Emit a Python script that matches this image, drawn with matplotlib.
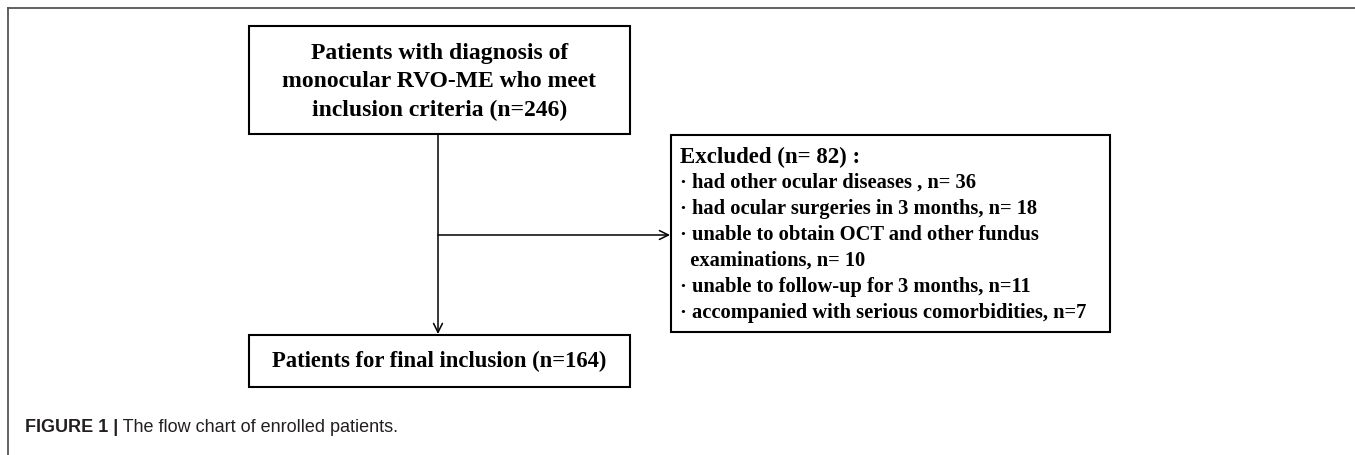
"""
Flow chart of enrolled patients (RVO-ME study).
"""
import matplotlib
matplotlib.use("Agg")
import matplotlib.pyplot as plt
from matplotlib.patches import Rectangle

# counts
n_total = 246
n_excluded = 82
n_final = 164

# exclusion reasons and counts
reasons = [
    'had other ocular diseases , n= {}',
    'had ocular surgeries in 3 months, n= {}',
    'unable to obtain OCT and other fundus\n  examinations, n= {}',
    'unable to follow-up for 3 months, n={}',
    'accompanied with serious comorbidities, n={}',
]
reason_counts = [36, 18, 10, 11, 7]

top_label = 'Patients with diagnosis of\nmonocular RVO-ME who meet\ninclusion criteria (n={})'
final_label = 'Patients for final inclusion (n={})'
excluded_label = 'Excluded (n= {}) :'
caption_bold = 'FIGURE 1 |'
caption_text = ' The flow chart of enrolled patients.'

W, H = 1355, 455
fig = plt.figure(figsize=(W / 100, H / 100), dpi=100)
ax = fig.add_axes([0, 0, 1, 1])
ax.set_xlim(0, W)
ax.set_ylim(H, 0)
ax.axis('off')

serif = 'Liberation Serif'
box_kw = dict(fill=False, edgecolor='black', linewidth=1.5)

# outer frame (top and left only)
ax.plot([8, W], [8, 8], color='#555555', lw=1.3)
ax.plot([8, 8], [8, H], color='#555555', lw=1.3)

# top box
ax.add_patch(Rectangle((249, 26), 381, 108, **box_kw))
ax.text(439.5, 82, top_label.format(n_total), ha='center', va='center',
        family=serif, weight='bold', fontsize=17, linespacing=1.45)

# excluded box
ax.add_patch(Rectangle((671, 135), 439, 197, **box_kw))
lines = []
for r, c in zip(reasons, reason_counts):
    lines.extend(('\u00b7 ' + r.format(c)).split('\n'))
y0, dy = 157, 26
ax.text(680, y0, excluded_label.format(n_excluded), ha='left', va='center',
        family=serif, weight='bold', fontsize=16.5)
for i, line in enumerate(lines):
    ax.text(680, y0 + dy * (i + 1), line, ha='left', va='center',
            family=serif, weight='bold', fontsize=14.8)

# final box
ax.add_patch(Rectangle((249, 335), 381, 52, **box_kw))
ax.text(439.5, 361, final_label.format(n_final), ha='center', va='center',
        family=serif, weight='bold', fontsize=16.3)

# arrows
arr = dict(arrowstyle='->', color='black', lw=1.1, mutation_scale=16,
           shrinkA=0, shrinkB=0)
ax.annotate('', xy=(438, 334), xytext=(438, 134), arrowprops=arr)
ax.annotate('', xy=(670, 235), xytext=(438, 235), arrowprops=arr)

# caption
t = ax.text(25, 428, caption_bold, ha='left', va='center',
            family='Liberation Sans', weight='bold', fontsize=13,
            color='#231f20')
fig.canvas.draw()
bb = t.get_window_extent()
x_end = ax.transData.inverted().transform((bb.x1, bb.y0))[0]
ax.text(x_end, 428, caption_text, ha='left', va='center',
        family='Liberation Sans', fontsize=13, color='#231f20')

fig.savefig('out.png', dpi=100)
